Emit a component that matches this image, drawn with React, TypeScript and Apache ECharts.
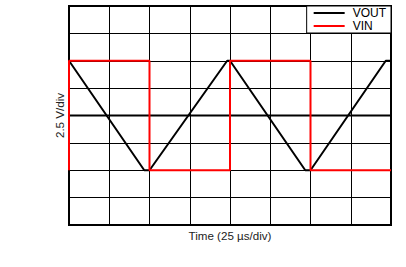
import React, { useEffect, useRef } from "react";
import * as echarts from "echarts";

const voutX = [0, 1.87, 2, 3.93, 4, 5.87, 6, 7.87, 8];
const voutY = [2, -2, -2, 2, 2, -2, -2, 2, 2];
const vinX = [0, 0, 2, 2, 4, 4, 6, 6, 8];
const vinY = [-2, 2, 2, -2, -2, 2, 2, -2, -2];
const zeroX = [0, 8];
const zeroY = [0, 0];
const xTitle = "Time (25 µs/div)";
const yTitle = "2.5 V/div";

const FONT = "Arial, 'Liberation Sans', sans-serif";

export default function App() {
  const ref = useRef<HTMLDivElement>(null);
  useEffect(() => {
    if (!ref.current) return;
    const chart = echarts.init(ref.current, null, { renderer: "svg" });
    const zip = (xs: number[], ys: number[]) => xs.map((x, i) => [x, ys[i]]);
    chart.setOption({
      animation: false,
      backgroundColor: "#fff",
      textStyle: { fontFamily: FONT },
      grid: {
        left: 69,
        right: 15,
        top: 6,
        bottom: 42,
        show: true,
        borderColor: "#000",
        borderWidth: 2,
        backgroundColor: "transparent",
      },
      legend: {
        orient: "vertical",
        right: 15,
        top: 6,
        backgroundColor: "#fff",
        borderColor: "#000",
        borderWidth: 1,
        borderRadius: 0,
        padding: [1, 5, 1, 7],
        itemGap: 1,
        itemWidth: 31,
        itemHeight: 2,
        icon: "rect",
        textStyle: { fontFamily: FONT, fontSize: 12, color: "#000", padding: [0, 0, 0, 3], lineHeight: 12 },
        data: ["VOUT", "VIN"],
      },
      xAxis: {
        type: "value",
        min: 0,
        max: 8,
        interval: 1,
        axisLine: { show: false },
        axisTick: { show: false },
        axisLabel: { show: false },
        splitLine: { show: true, lineStyle: { color: "#000", width: 1 } },
        name: xTitle,
        nameLocation: "middle",
        nameGap: 4,
        nameTextStyle: { fontFamily: FONT, fontSize: 11.6, color: "#222", verticalAlign: "top" },
      },
      yAxis: {
        type: "value",
        min: -4,
        max: 4,
        interval: 1,
        axisLine: { show: false },
        axisTick: { show: false },
        axisLabel: { show: false },
        splitLine: { show: true, lineStyle: { color: "#000", width: 1 } },
        name: yTitle,
        nameLocation: "middle",
        nameGap: 4,
        nameTextStyle: { fontFamily: FONT, fontSize: 11.6, color: "#222", verticalAlign: "bottom" },
      },
      series: [
        {
          name: "zero",
          type: "line",
          data: zip(zeroX, zeroY),
          showSymbol: false,
          silent: true,
          lineStyle: { color: "#000", width: 2 },
          z: 1,
        },
        {
          name: "VOUT",
          type: "line",
          data: zip(voutX, voutY),
          showSymbol: false,
          color: "#000",
          lineStyle: { color: "#000", width: 2 },
          z: 2,
        },
        {
          name: "VIN",
          type: "line",
          data: zip(vinX, vinY),
          showSymbol: false,
          color: "#ff0000",
          lineStyle: { color: "#ff0000", width: 2 },
          z: 3,
        },
      ],
    });
    return () => chart.dispose();
  }, []);
  return <div ref={ref} style={{ position: "fixed", left: 0, top: 0, width: 406, height: 267 }} />;
}
